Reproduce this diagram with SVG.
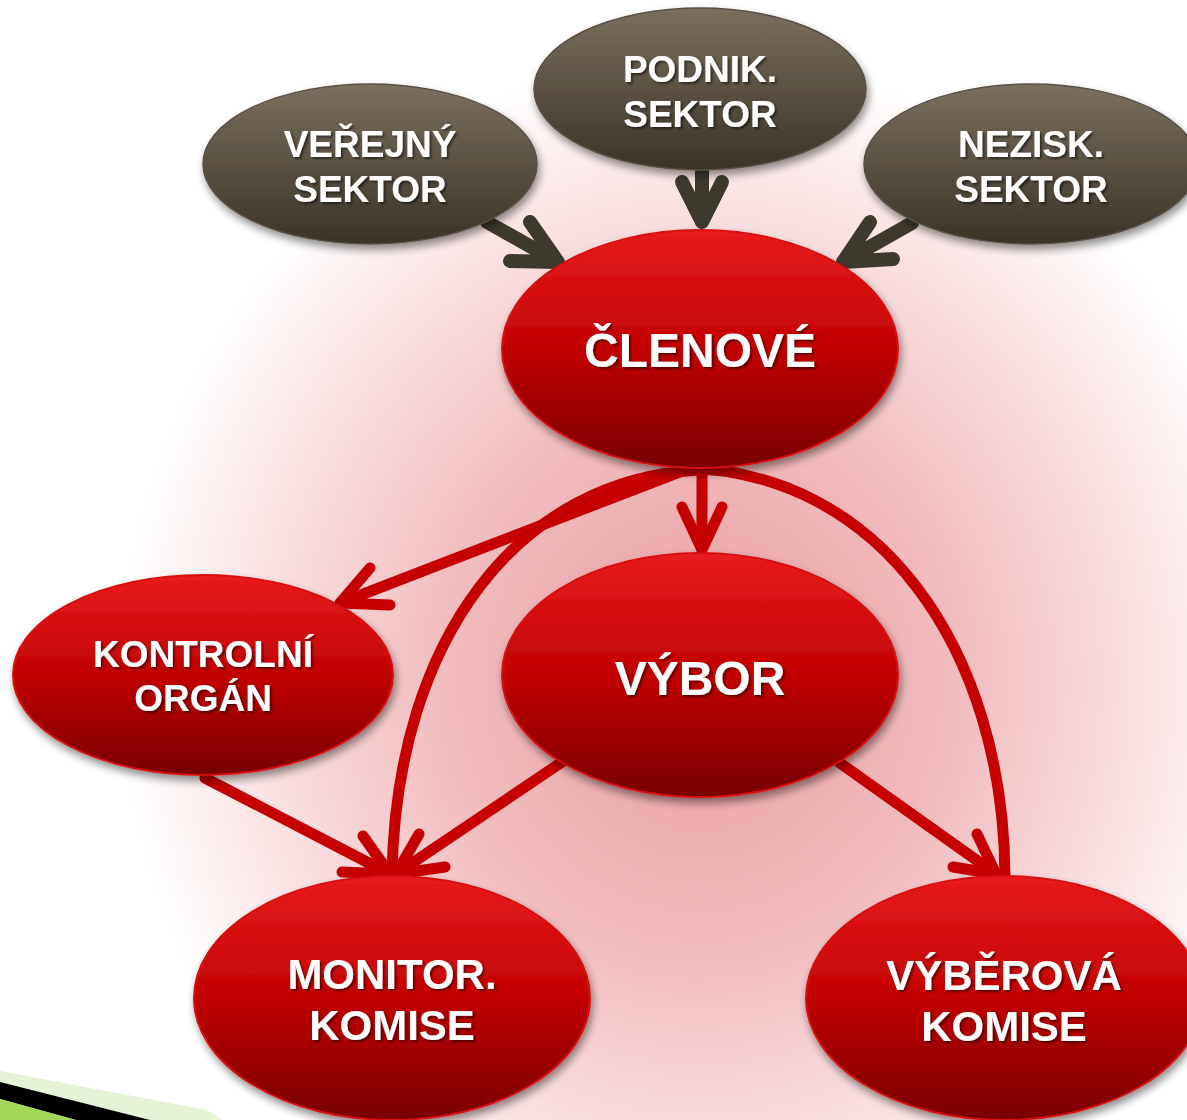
<svg xmlns="http://www.w3.org/2000/svg" width="1187" height="1120" viewBox="0 0 1187 1120">
<defs>
<radialGradient id="bg" gradientUnits="userSpaceOnUse" cx="700" cy="680" r="580" gradientTransform="translate(700 680) scale(1 1.08) translate(-700 -680)">
<stop offset="0" stop-color="#e99da0"/>
<stop offset="0.45" stop-color="#f1bdbf"/>
<stop offset="0.8" stop-color="#fbe6e6"/>
<stop offset="1" stop-color="#ffffff"/>
</radialGradient>
<linearGradient id="gray" x1="0" y1="0" x2="0" y2="1">
<stop offset="0" stop-color="#7b6f5f"/>
<stop offset="1" stop-color="#3a3327"/>
</linearGradient>
<linearGradient id="red" x1="0" y1="0" x2="0" y2="1">
<stop offset="0" stop-color="#e81b1b"/>
<stop offset="0.5" stop-color="#c20202"/>
<stop offset="1" stop-color="#780000"/>
</linearGradient>
<filter id="sh" x="-20%" y="-20%" width="140%" height="150%">
<feGaussianBlur in="SourceAlpha" stdDeviation="4"/>
<feOffset dx="2" dy="5"/>
<feComponentTransfer><feFuncA type="linear" slope="0.45"/></feComponentTransfer>
<feMerge><feMergeNode/><feMergeNode in="SourceGraphic"/></feMerge>
</filter>
<filter id="tsh" x="-10%" y="-20%" width="120%" height="150%">
<feGaussianBlur in="SourceAlpha" stdDeviation="1.2"/>
<feOffset dx="1.5" dy="1.5"/>
<feComponentTransfer><feFuncA type="linear" slope="0.5"/></feComponentTransfer>
<feMerge><feMergeNode/><feMergeNode in="SourceGraphic"/></feMerge>
</filter>
</defs>
<style>
.g{fill:url(#gray);stroke:#5a5044;stroke-width:1.5;filter:url(#sh)}
.r{fill:url(#red);stroke:#d81010;stroke-width:2;filter:url(#sh)}
.t{font-family:"Liberation Sans",Arial,sans-serif;font-weight:bold;fill:#fff;text-anchor:middle;filter:url(#tsh)}
.da{fill:none;stroke:#3d3a2d;stroke-width:14;stroke-linecap:round;stroke-linejoin:round}
.ra{fill:none;stroke:#c60000;stroke-width:11;stroke-linecap:round;stroke-linejoin:round}
</style>
<rect width="1187" height="1120" fill="#fff"/>
<rect width="1187" height="1120" fill="url(#bg)"/>
<g id="decor">
<polygon points="0,1071 207,1110 222,1120 0,1120" fill="#e5f2d6"/>
<polygon points="0,1082 150,1120 76,1120 0,1099" fill="#000"/>
<polygon points="0,1099 76,1120 0,1120" fill="#a4d65a"/>
</g>
<g id="connectors">
<path class="ra" d="M700,470 C518,478 396,640 392,875"/>
<path class="ra" d="M682,468 C880,470 1004,650 1005,877"/>
<path class="ra" d="M690,468 L340,603 M370,568 L340,603 L390,605"/>
<path class="ra" d="M702,470 L702,550 M682,507 L702,550 L722,507"/>
<path class="ra" d="M205,778 L390,874 M342,872 L390,874 L363,836"/>
<path class="ra" d="M562,762 L396,874 M419,834 L396,874 L445,867"/>
<path class="ra" d="M840,763 L996,874 M977,834 L996,874 L953,867"/>
<path class="da" d="M487,222 L558,262 M530,222 L558,262 L510,261"/>
<path class="da" d="M702,170 L702,222 M682,182 L702,222 L722,182"/>
<path class="da" d="M912,223 L843,262 M870,222 L843,262 L893,259"/>
</g>
<g id="n-verejny">
<ellipse class="g" cx="370" cy="164" rx="167" ry="80"/>
<text class="t" x="370" y="157" font-size="37">VEŘEJNÝ</text>
<text class="t" x="370" y="202" font-size="37">SEKTOR</text>
</g>
<g id="n-podnik">
<ellipse class="g" cx="700" cy="89" rx="166" ry="81"/>
<text class="t" x="700" y="82" font-size="37">PODNIK.</text>
<text class="t" x="700" y="127" font-size="37">SEKTOR</text>
</g>
<g id="n-nezisk">
<ellipse class="g" cx="1031" cy="164" rx="167" ry="80"/>
<text class="t" x="1031" y="157" font-size="37">NEZISK.</text>
<text class="t" x="1031" y="202" font-size="37">SEKTOR</text>
</g>
<g id="n-clenove">
<ellipse class="r" cx="700" cy="349" rx="198" ry="119"/>
<text class="t" x="700" y="367" font-size="48">ČLENOVÉ</text>
</g>
<g id="n-kontrolni">
<ellipse class="r" cx="203" cy="675" rx="190" ry="100"/>
<text class="t" x="203" y="667" font-size="37">KONTROLNÍ</text>
<text class="t" x="203" y="711" font-size="37">ORGÁN</text>
</g>
<g id="n-vybor">
<ellipse class="r" cx="700" cy="675" rx="198" ry="122"/>
<text class="t" x="700" y="695" font-size="48">VÝBOR</text>
</g>
<g id="n-monitor">
<ellipse class="r" cx="392" cy="998" rx="198" ry="122"/>
<text class="t" x="392" y="989" font-size="42">MONITOR.</text>
<text class="t" x="392" y="1040" font-size="42">KOMISE</text>
</g>
<g id="n-vyberova">
<ellipse class="r" cx="1004" cy="998" rx="198" ry="122"/>
<text class="t" x="1004" y="990" font-size="42">VÝBĚROVÁ</text>
<text class="t" x="1004" y="1041" font-size="42">KOMISE</text>
</g>
</svg>
